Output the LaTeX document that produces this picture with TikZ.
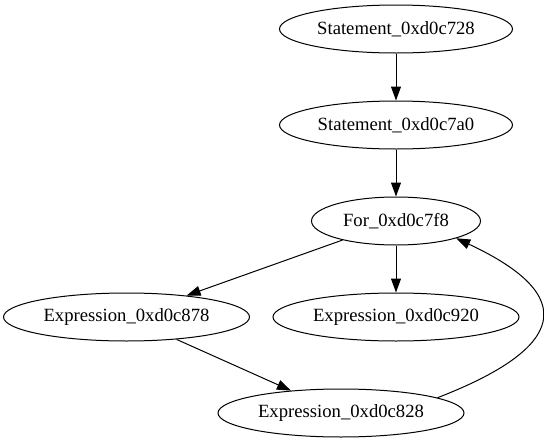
\documentclass[tikz,border=0pt]{standalone}
\usepackage{fontspec}
\setmainfont{Liberation Serif}
\usetikzlibrary{arrows.meta,shapes.geometric}
\tikzset{
  gnode/.style={draw, ellipse, inner sep=0pt, line width=0.75pt, minimum height=36pt,
    font=\fontsize{14pt}{16pt}\selectfont},
  stmt/.style={gnode, minimum width=174.75pt},
  fornode/.style={gnode, minimum width=126.75pt},
  expr/.style={gnode, minimum width=184.5pt},
  edge/.style={draw, line width=0.75pt, -{Triangle[length=10.5pt,width=7.5pt]}}
}
\begin{document}
\begin{tikzpicture}[x=0.75pt,y=-0.75pt]
\useasboundingbox (0,0) rectangle (544,443);
\node[stmt] (s1) at (396,29) {Statement\_0xd0c728};
\node[stmt] (s2) at (396,125) {Statement\_0xd0c7a0};
\node[fornode] (f) at (396,221) {For\_0xd0c7f8};
\node[expr] (e878) at (126.5,317) {Expression\_0xd0c878};
\node[expr] (e920) at (396,317) {Expression\_0xd0c920};
\node[expr] (e828) at (341,413) {Expression\_0xd0c828};
\draw[edge] (s1) -- (s2);
\draw[edge] (s2) -- (f);
\draw[edge] (f) -- (e878);
\draw[edge] (f) -- (e920);
\draw[edge] (e878) -- (e828);
\draw[edge] (e828.9) .. controls (566,348) and (580,296) .. (f.-16);
\end{tikzpicture}
\end{document}
